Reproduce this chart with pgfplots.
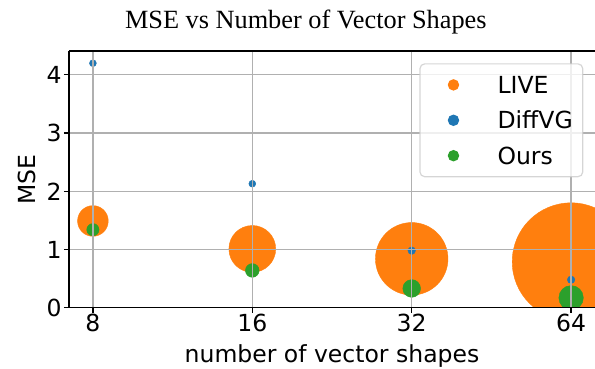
\documentclass[border=0pt]{standalone}
\usepackage{pgfplots}
\pgfplotsset{compat=1.18}
\usepackage{fontspec}
\setmainfont{DejaVu Sans}
\newfontfamily\titlefont{Liberation Serif}
\definecolor{liveC}{HTML}{FF7F0E}
\definecolor{diffC}{HTML}{1F77B4}
\definecolor{oursC}{HTML}{2CA02C}
\definecolor{gridC}{HTML}{B0B0B0}
\definecolor{legC}{HTML}{CCCCCC}
\newcommand{\lbl}{\fontsize{23.6}{28}\selectfont}
\begin{document}
\begin{tikzpicture}
\begin{axis}[
  at={(0,0)}, anchor=south west,
  scale only axis, width=526bp, height=256.7bp,
  xmin=-0.15, xmax=3.15, ymin=0, ymax=4.41,
  axis x line=box, axis y line=left,
  axis line style={-, black, line width=1.2bp},
  xtick={0,1,2,3}, xticklabels={8,16,32,64},
  ytick={0,1,2,3,4},
  xtick pos=left, ytick pos=left,
  tick align=outside, major tick length=5.1bp,
  tick style={black, line width=1.2bp},
  /pgf/number format/assume math mode=true,
  tick label style={font=\lbl, inner sep=0pt},
  yticklabel style={anchor=east, xshift=-2bp},
  xticklabel style={anchor=north, yshift=-1bp},
  grid=major, major grid style={color=gridC, line width=1.2bp},
  axis on top,
  clip marker paths=true,
  xlabel={number of vector shapes}, ylabel={MSE},
  xlabel style={font=\lbl, at={(axis description cs:0.5,-0.2143)}, anchor=base, inner sep=0pt},
  ylabel style={font=\lbl, at={(axis description cs:-0.0799,0.5)}, anchor=center, inner sep=0pt},
  title={MSE vs Number of Vector Shapes},
  every axis title shift=0pt,
  title style={font=\titlefont\fontsize{26.4}{30}\selectfont, at={(axis description cs:0.4502,1.0857)}, anchor=base, inner sep=0pt},
  legend image code/.code={\path[draw=none, fill=none] (0bp,-8.55bp) rectangle (67.6bp,8.55bp); \draw[#1, fill opacity=1, draw opacity=1] plot coordinates {(23.5bp,0bp)};},
  legend style={draw=legC, draw opacity=0.8, line width=1.2bp, fill=white, fill opacity=0.8, text opacity=1,
    rounded corners=4.7bp, inner xsep=10bp, inner ysep=12.45bp, row sep=18.3bp,
    at={(axis description cs:0.9778,0.9521)}, anchor=north east,
    nodes={anchor=west, inner sep=0pt, text height=17.1bp, text depth=0pt, font=\lbl}},
  legend cell align=left,
]
\addlegendimage{only marks, mark=*, mark size=5.1pt, color=liveC}
\addlegendentry{LIVE}
\addlegendimage{only marks, mark=*, mark size=5.1pt, color=diffC}
\addlegendentry{DiffVG}
\addlegendimage{only marks, mark=*, mark size=5.1pt, color=oursC}
\addlegendentry{Ours}

\addplot[scatter, only marks, mark=*, forget plot, point meta=explicit,
  scatter/use mapped color={draw=liveC, fill=liveC},
  visualization depends on={\thisrow{r} \as \msz},
  scatter/@pre marker code/.append style={/tikz/mark size=\msz pt}]
  table[x=x, y=y, meta=r] {
x y r
0 1.49 15.4
1 1.01 23.5
2 0.84 36.4
3 0.79 59.1
};
\addplot[scatter, only marks, mark=*, forget plot, point meta=explicit,
  scatter/use mapped color={draw=diffC, fill=diffC},
  visualization depends on={\thisrow{r} \as \msz},
  scatter/@pre marker code/.append style={/tikz/mark size=\msz pt}]
  table[x=x, y=y, meta=r] {
x y r
0 4.20 3.5
1 2.13 3.5
2 0.98 3.8
3 0.48 3.8
};
\addplot[scatter, only marks, mark=*, forget plot, point meta=explicit,
  scatter/use mapped color={draw=oursC, fill=oursC},
  visualization depends on={\thisrow{r} \as \msz},
  scatter/@pre marker code/.append style={/tikz/mark size=\msz pt}]
  table[x=x, y=y, meta=r] {
x y r
0 1.34 6.2
1 0.64 6.9
2 0.33 8.9
3 0.17 12.3
};
\end{axis}
\pgfresetboundingbox
\path (-69bp,-61.3bp) rectangle (526bp,307.7bp);
\end{tikzpicture}
\end{document}
